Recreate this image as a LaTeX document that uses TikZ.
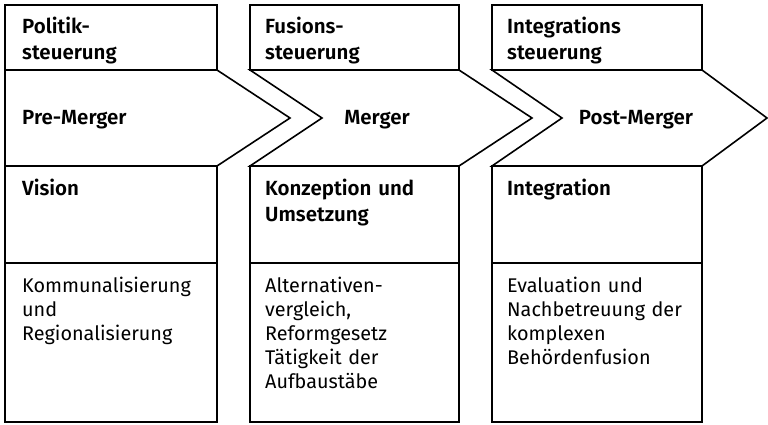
\documentclass[tikz,border=0pt]{standalone}
\usepackage{fontspec}
\setmainfont{Fira Sans}[BoldFont={Fira Sans SemiBold}]
\begin{document}
\begin{tikzpicture}[x=1pt,y=-1pt,
  frame/.style={draw=black,line width=1.6pt,line join=miter},
  head/.style={anchor=base west,inner sep=0pt,text width=200pt,align=left,
    font=\fontsize{20.5}{26}\selectfont\bfseries},
  body/.style={anchor=base west,inner sep=0pt,text width=200pt,align=left,
    font=\fontsize{19.8}{24.2}\selectfont},
  phase/.style={anchor=base,inner sep=0pt,font=\fontsize{20.5}{24}\selectfont\bfseries}]
\useasboundingbox (0,0) rectangle (768,424);
% column 1
\draw[frame] (5,5) rectangle (217,70);
\draw[frame] (5,70) -- (217,70) -- (290,118) -- (217,166) -- (5,166) -- cycle;
\draw[frame] (5,166) rectangle (217,263);
\draw[frame] (5,263) rectangle (217,422);
% column 2
\draw[frame] (250,5) rectangle (459,70);
\draw[frame] (250,70) -- (459,70) -- (532,118) -- (459,166) -- (250,166) -- (322,118) -- cycle;
\draw[frame] (250,166) rectangle (459,263);
\draw[frame] (250,263) rectangle (459,422);
% column 3
\draw[frame] (492,5) rectangle (702,70);
\draw[frame] (492,70) -- (702,70) -- (767,118) -- (702,166) -- (492,166) -- (562,118) -- cycle;
\draw[frame] (492,166) rectangle (702,263);
\draw[frame] (492,263) rectangle (702,422);
% texts
\node[head] (t1) at (22,33) {Politik-\\steuerung};
\node[head] (t2) at (265,33) {Fusions-\\steuerung};
\node[head] (t3) at (507,33) {Integrations\\steuerung};
\node[head] (p1) at (22,124) {Pre-Merger};
\node[phase] (p2) at (377,124) {Merger};
\node[phase] (p3) at (636,124) {Post-Merger};
\node[head] (m1) at (22,195) {Vision};
\node[head] (m2) at (265,195) {Konzeption und\\Umsetzung};
\node[head] (m3) at (507,195) {Integration};
\node[body] (b1) at (22,292) {Kommunalisierung\\und\\Regionalisierung};
\node[body] (b2) at (265,292) {Alternativen-\\vergleich,\\Reformgesetz\\Tätigkeit der\\Aufbaustäbe};
\node[body] (b3) at (507,292) {Evaluation und\\Nachbetreuung der\\komplexen\\Behördenfusion};
\end{tikzpicture}
\end{document}
